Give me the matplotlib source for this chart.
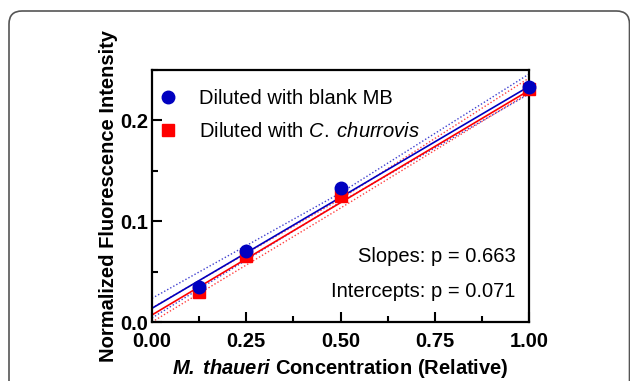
import matplotlib
matplotlib.use('Agg')
import matplotlib.pyplot as plt
from matplotlib.patches import FancyBboxPatch
from matplotlib.transforms import IdentityTransform
from matplotlib.ticker import MultipleLocator

plt.rcParams['font.family'] = ['Liberation Sans', 'DejaVu Sans']
plt.rcParams['mathtext.fontset'] = 'custom'
plt.rcParams['mathtext.rm'] = 'Liberation Sans'
plt.rcParams['mathtext.it'] = 'Liberation Sans:italic'
plt.rcParams['mathtext.bf'] = 'Liberation Sans:bold'
plt.rcParams['mathtext.bfit'] = 'Liberation Sans:italic:bold'

# data
conc = [0.125, 0.25, 0.5, 1.0]
blank_mb = [0.035, 0.070, 0.133, 0.233]
churrovis = [0.030, 0.065, 0.125, 0.231]

# fitted lines (value at x=0 and x=1)
fit_x = [0.0, 1.0]
blank_fit = [0.0136, 0.2337]
churr_fit = [0.0070, 0.2297]

# confidence bands
band_x = [0.0, 0.5, 1.0]
blank_hi = [0.0235, 0.1280, 0.2460]
blank_lo = [0.0040, 0.1190, 0.2262]
churr_hi = [0.0140, 0.1220, 0.2420]
churr_lo = [0.0000, 0.1130, 0.2275]

blue = '#0000c0'
red = '#ff0000'
fs = 14.5
dots = (0, (1, 1.5))

fig = plt.figure(figsize=(6.3, 3.81), dpi=100)

# rounded frame around the figure
frame = FancyBboxPatch((9, -40), 620.5, 370 + 40,
                       boxstyle='round,pad=0,rounding_size=13',
                       transform=IdentityTransform(), fill=False,
                       edgecolor='#555555', linewidth=1.2)
fig.patches.append(frame)

ax = fig.add_axes([152 / 630, 59 / 381, 377 / 630, 252 / 381])

ax.plot(band_x, blank_hi, ls=dots, color=blue, lw=1.0, alpha=0.75)
ax.plot(band_x, blank_lo, ls=dots, color=blue, lw=1.0, alpha=0.75)
ax.plot(band_x, churr_hi, ls=dots, color=red, lw=1.0, alpha=0.75)
ax.plot(band_x, churr_lo, ls=dots, color=red, lw=1.0, alpha=0.75)
ax.plot(fit_x, blank_fit, '-', color=blue, lw=1.2)
ax.plot(fit_x, churr_fit, '-', color=red, lw=1.2)

ax.plot(conc, churrovis, 's', color=red, ms=8, clip_on=False,
        label=r'Diluted with $\mathit{C.\;churrovis}$', zorder=5)
ax.plot(conc, blank_mb, 'o', color=blue, ms=9, clip_on=False,
        label='Diluted with blank MB', zorder=6)

h, l = ax.get_legend_handles_labels()
ax.legend([h[1], h[0]], [l[1], l[0]], loc='upper left', frameon=False,
          fontsize=fs, handlelength=0.8, handletextpad=1.15,
          labelspacing=0.7, borderaxespad=0.0,
          bbox_to_anchor=(0.0, 0.955))

ax.text(0.965, 0.26, 'Slopes: p = 0.663', transform=ax.transAxes,
        ha='right', va='center', fontsize=fs)
ax.text(0.965, 0.123, 'Intercepts: p = 0.071', transform=ax.transAxes,
        ha='right', va='center', fontsize=fs)

ax.set_xlim(0, 1.0)
ax.set_ylim(0, 0.25)
ax.set_xticks([0, 0.25, 0.5, 0.75, 1.0])
ax.set_xticklabels(['0.00', '0.25', '0.50', '0.75', '1.00'])
ax.set_yticks([0, 0.1, 0.2])
ax.set_yticklabels(['0.0', '0.1', '0.2'])
ax.xaxis.set_minor_locator(MultipleLocator(0.125))
ax.yaxis.set_minor_locator(MultipleLocator(0.05))

for s in ax.spines.values():
    s.set_linewidth(1.6)
ax.tick_params(which='major', direction='in', length=7, width=1.5,
               labelsize=fs)
ax.tick_params(which='minor', direction='in', length=4.5, width=1.5)
ax.tick_params(axis='x', pad=7.5)
ax.tick_params(axis='y', pad=3)
for t in ax.get_xticklabels() + ax.get_yticklabels():
    t.set_fontweight('bold')

ax.set_xlabel(r'$\mathbfit{M.\;thaueri}$ Concentration (Relative)',
              fontsize=fs, fontweight='bold', labelpad=4)
ax.set_ylabel('Normalized Fluorescence Intensity', fontsize=fs,
              fontweight='bold', labelpad=1.5)

fig.savefig('out.png', dpi=100)
